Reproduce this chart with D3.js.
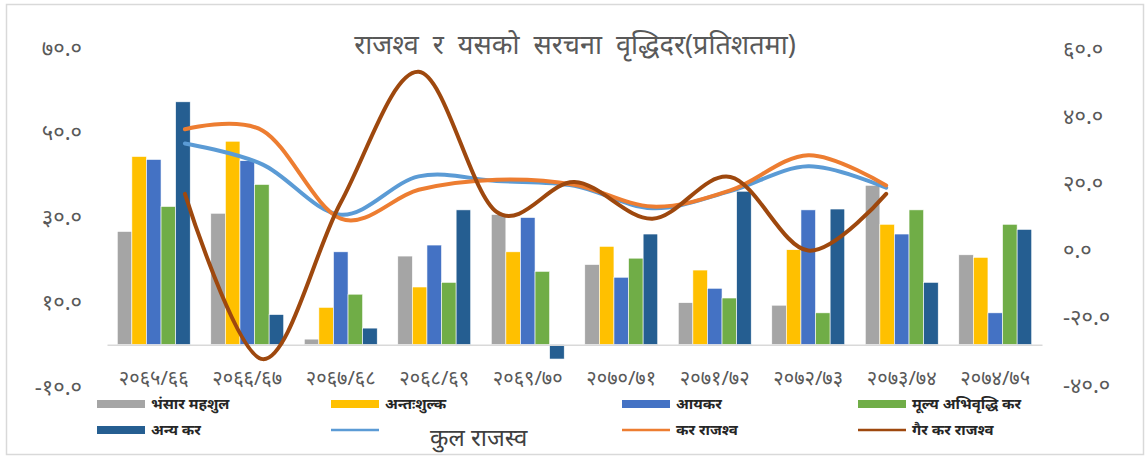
<!DOCTYPE html>
<html>
<head>
<meta charset="utf-8">
<script src="https://cdn.jsdelivr.net/npm/d3@7"></script>
<style>
  body { margin: 0; background: #fff; }
  text { font-family: "Noto Sans", "Noto Sans Devanagari", "DejaVu Sans", sans-serif; }
</style>
</head>
<body>
<div id="chart"></div>
<script>
// fiscal years (Nepali)
const years = ["२०६५/६६", "२०६६/६७", "२०६७/६८", "२०६८/६९", "२०६९/७०",
  "२०७०/७१", "२०७१/७२", "२०७२/७३", "२०७३/७४", "२०७४/७५"];

// bars, left axis
const customs = [26.7, 31.0, 1.3, 20.9, 30.7, 18.9, 9.9, 9.3, 37.6, 21.2];
const excise = [44.4, 48.0, 8.8, 13.6, 21.9, 23.2, 17.6, 22.4, 28.4, 20.6];
const incomeTax = [43.7, 43.4, 21.9, 23.5, 30.0, 15.9, 13.3, 31.8, 26.1, 7.5];
const vat = [32.6, 37.8, 11.9, 14.7, 17.3, 20.4, 11.0, 7.5, 31.8, 28.4];
const otherTax = [57.3, 7.1, 3.9, 31.8, -3.4, 26.1, 36.2, 32.0, 14.7, 27.2];

// lines, right axis
const totalRev = [31.9, 25.6, 10.7, 22.1, 20.7, 19.3, 12.6, 17.7, 25.1, 18.7];
const taxRev = [36.1, 35.7, 9.5, 18.1, 21.1, 19.6, 13.1, 17.9, 28.4, 19.4];
const nonTaxRev = [16.9, -32.3, 14.3, 53.2, 11.5, 20.4, 9.5, 21.9, 0.0, 16.9];

const leftTicks = [-10, 10, 30, 50, 70];
const rightTicks = [-40, -20, 0, 20, 40, 60];

const title = "राजश्व र यसको सरचना वृद्धिदर(प्रतिशतमा)";
const barNames = ["भंसार महशुल", "अन्तःशुल्क", "आयकर", "मूल्य अभिवृद्धि कर", "अन्य कर"];
const lineNames = ["कुल राजस्व", "कर राजश्व", "गैर कर राजश्व"];
const barColors = ["#a5a5a5", "#ffc000", "#4472c4", "#70ad47", "#255e91"];
const lineColors = ["#5b9bd5", "#ed7d31", "#9e480e"];

const width = 1147, height = 457;
const plot = {left: 107, right: 1042, top: 48, bottom: 387};

const devDigits = "०१२३४५६७८९";
const toDev = s => s.replace(/[0-9]/g, d => devDigits[+d]);
const fmt = d => toDev(d3.format(".1f")(d)).replace("−", "-");

const svg = d3.select("#chart").append("svg")
  .attr("width", width)
  .attr("height", height);

// outer frame
svg.append("rect")
  .attr("x", 6.5).attr("y", 4.5)
  .attr("width", 1137).attr("height", 450)
  .attr("fill", "#fff")
  .attr("stroke", "#d9d9d9")
  .attr("stroke-width", 1.5);

const x0 = d3.scaleBand()
  .domain(years)
  .range([plot.left, plot.right])
  .paddingInner(0.22)
  .paddingOuter(0.11);

const barSeries = [customs, excise, incomeTax, vat, otherTax];

const x1 = d3.scaleBand()
  .domain(d3.range(barSeries.length))
  .range([0, x0.bandwidth()]);

// secondary category axis: 13 slots on tick marks, lines sit in slots 1..10
const xLine = d3.scaleLinear()
  .domain([0, 12])
  .range([plot.left, plot.right]);

const yL = d3.scaleLinear()
  .domain([-10, 70])
  .range([plot.bottom, plot.top]);

const yR = d3.scaleLinear()
  .domain([-40, 60])
  .range([plot.bottom - 2, plot.top + 1]);

// title
svg.append("text")
  .attr("x", 575)
  .attr("y", 54)
  .attr("text-anchor", "middle")
  .attr("fill", "#595959")
  .style("font-size", "27px")
  .style("word-spacing", "7px")
  .text(title);

// left axis labels
svg.append("g")
  .attr("transform", `translate(${plot.left},0)`)
  .call(d3.axisLeft(yL).tickValues(leftTicks).tickFormat(fmt).tickSize(0).tickPadding(25))
  .call(g => g.select(".domain").remove())
  .call(g => g.selectAll("text")
    .attr("fill", "#595959")
    .style("font-size", "22px")
    .style("font-family", null));

// right axis labels
svg.append("g")
  .attr("transform", `translate(${plot.right},0)`)
  .call(d3.axisRight(yR).tickValues(rightTicks).tickFormat(fmt).tickSize(0).tickPadding(21))
  .call(g => g.select(".domain").remove())
  .call(g => g.selectAll("text")
    .attr("fill", "#595959")
    .style("font-size", "22px")
    .style("font-family", null));

// bars
const groups = svg.append("g")
  .selectAll("g")
  .data(years)
  .join("g")
  .attr("transform", d => `translate(${x0(d)},0)`);

groups.selectAll("rect")
  .data((d, i) => barSeries.map((s, k) => ({k, v: s[i]})))
  .join("rect")
  .attr("x", d => x1(d.k))
  .attr("width", x1.bandwidth())
  .attr("y", d => yL(Math.max(0, d.v)))
  .attr("height", d => Math.abs(yL(d.v) - yL(0)))
  .attr("fill", d => barColors[d.k])
  .attr("stroke", "#fff")
  .attr("stroke-width", 0.6);

// category axis at zero
svg.append("g")
  .attr("transform", `translate(0,${yL(0)})`)
  .call(d3.axisBottom(x0).tickSize(0).tickPadding(0))
  .call(g => g.select(".domain").attr("stroke", "#d9d9d9").attr("stroke-width", 1.5))
  .call(g => g.selectAll("text")
    .attr("y", 40)
    .attr("dy", 0)
    .attr("fill", "#595959")
    .style("font-size", "20px")
    .style("font-family", null));

// smoothed lines
const line = d3.line()
  .x((d, i) => xLine(i + 1))
  .y(d => yR(d))
  .curve(d3.curveCardinal.tension(0));

[totalRev, taxRev, nonTaxRev].forEach((s, k) => {
  svg.append("path")
    .datum(s)
    .attr("fill", "none")
    .attr("stroke", lineColors[k])
    .attr("stroke-width", 4)
    .attr("stroke-linejoin", "round")
    .attr("stroke-linecap", "round")
    .attr("d", line);
});

// legend
const legendItems = [
  {name: barNames[0], color: barColors[0], type: "bar"},
  {name: barNames[1], color: barColors[1], type: "bar"},
  {name: barNames[2], color: barColors[2], type: "bar"},
  {name: barNames[3], color: barColors[3], type: "bar"},
  {name: barNames[4], color: barColors[4], type: "bar"},
  {name: lineNames[0], color: lineColors[0], type: "line", big: true},
  {name: lineNames[1], color: lineColors[1], type: "line"},
  {name: lineNames[2], color: lineColors[2], type: "line"}
];
const colX = [97, 331, 622, 858];
const rowY = [404, 430];

const lg = svg.append("g")
  .selectAll("g")
  .data(legendItems)
  .join("g")
  .attr("transform", (d, i) => `translate(${colX[i % 4]},${rowY[Math.floor(i / 4)]})`);

lg.filter(d => d.type === "bar").append("rect")
  .attr("x", 0).attr("y", -4)
  .attr("width", 48).attr("height", 8)
  .attr("fill", d => d.color);

lg.filter(d => d.type === "line").append("line")
  .attr("x1", 0).attr("x2", 48)
  .attr("y1", 0).attr("y2", 0)
  .attr("stroke", d => d.color)
  .attr("stroke-width", 2.5);

lg.append("text")
  .attr("x", d => d.big ? 99 : 54)
  .attr("y", d => d.big ? 16 : 5)
  .attr("fill", d => d.big ? "#404040" : "#262626")
  .style("font-size", d => d.big ? "24px" : "15px")
  .style("font-weight", d => d.big ? "normal" : "bold")
  .text(d => d.name);
</script>
</body>
</html>
